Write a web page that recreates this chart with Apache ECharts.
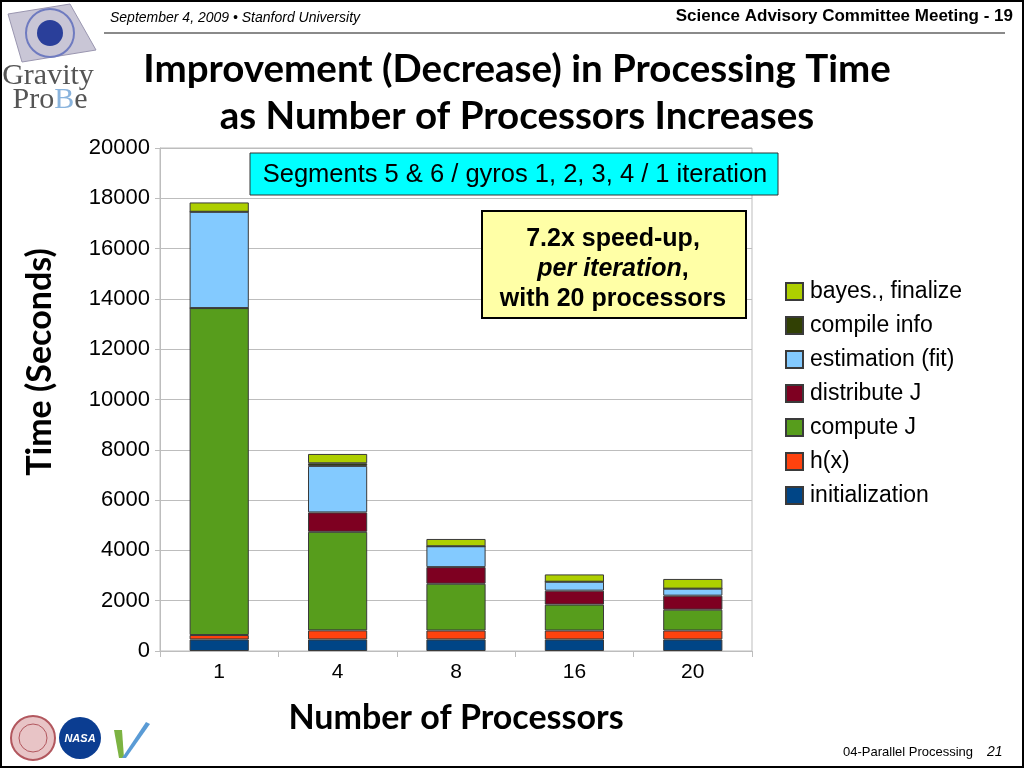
<!DOCTYPE html>
<html>
<head>
<meta charset="UTF-8">
<title>Processing Time</title>
<script src="https://cdn.jsdelivr.net/npm/echarts@6/dist/echarts.min.js"></script>
<style>
  html, body { margin: 0; padding: 0; background: #fff; }
</style>
</head>
<body>
<div id="main" style="width:1024px;height:768px;"></div>
<script type="text/javascript">
// processors on the x axis
var processors = ['1', '4', '8', '16', '20'];

// seconds per stage (bottom to top)
var initialization = [460, 460, 460, 460, 460];
var hx = [175, 360, 355, 355, 355];
var computeJ = [13000, 3920, 1860, 1030, 830];
var distributeJ = [0, 770, 660, 555, 555];
var estimation = [3830, 1850, 830, 355, 280];
var compileInfo = [0, 105, 0, 0, 0];
var bayes = [370, 370, 290, 290, 385];

var stages = [
  ['initialization', initialization, '#004586'],
  ['h(x)', hx, '#ff420e'],
  ['compute J', computeJ, '#579d1c'],
  ['distribute J', distributeJ, '#7e0021'],
  ['estimation (fit)', estimation, '#83caff'],
  ['compile info', compileInfo, '#314004'],
  ['bayes., finalize', bayes, '#aecf00']
];

var sans = '"Liberation Sans", Arial, sans-serif';
var heading = 'Lato, "Open Sans", sans-serif';
var gridGray = '#bdbdbd';

var series = stages.map(function (s) {
  return {
    name: s[0],
    type: 'bar',
    stack: 'time',
    data: s[1],
    barCategoryGap: '50%',
    itemStyle: { color: s[2], borderColor: '#3a3a3a', borderWidth: 1 }
  };
});

var myChart = echarts.init(document.getElementById('main'));
myChart.setOption({
  backgroundColor: '#fff',
  animation: false,
  title: {
    text: 'Improvement (Decrease) in Processing Time\nas Number of Processors Increases',
    left: 517,
    top: 46,
    padding: 0,
    textAlign: 'center',
    textStyle: { fontFamily: heading, fontWeight: 'bold', fontSize: 38.5, lineHeight: 47, color: '#000' }
  },
  legend: {
    orient: 'vertical',
    left: 785,
    top: 280,
    padding: 0,
    itemWidth: 17,
    itemHeight: 17,
    itemGap: 11,
    icon: 'rect',
    data: ['bayes., finalize', 'compile info', 'estimation (fit)', 'distribute J', 'compute J', 'h(x)', 'initialization'],
    textStyle: { fontFamily: sans, fontSize: 23, lineHeight: 23, color: '#000', padding: [0, 0, 0, 2] }
  },
  grid: {
    left: 160, right: 272, top: 148, bottom: 117,
    show: true, borderColor: gridGray, borderWidth: 1
  },
  xAxis: {
    type: 'category',
    data: processors,
    name: 'Number of Processors',
    nameLocation: 'middle',
    nameGap: 50,
    nameTextStyle: { fontFamily: heading, fontWeight: 'bold', fontSize: 34, color: '#000' },
    axisLine: { lineStyle: { color: gridGray } },
    axisTick: { show: true, length: 6, lineStyle: { color: gridGray } },
    axisLabel: { fontFamily: sans, fontSize: 21, color: '#000', margin: 11 }
  },
  yAxis: {
    type: 'value',
    min: 0,
    max: 20000,
    interval: 2000,
    axisLine: { show: true, lineStyle: { color: gridGray } },
    axisTick: { show: true, length: 5, lineStyle: { color: gridGray } },
    axisLabel: { fontFamily: sans, fontSize: 22, color: '#000', margin: 10, formatter: function (v) { return String(v); } },
    splitLine: { lineStyle: { color: gridGray } }
  },
  series: series,
  graphic: [
    // slide frame
    { type: 'rect', shape: { x: 1, y: 1, width: 1022, height: 766 }, style: { fill: 'none', stroke: '#000', lineWidth: 2 }, z: 100 },
    // header
    { type: 'text', x: 110, y: 18, style: { text: 'September 4, 2009 \u2022 Stanford University', font: 'italic 14px ' + sans, fill: '#000', textVerticalAlign: 'middle' } },
    { type: 'text', x: 1013, y: 16, style: { text: 'Science Advisory Committee Meeting - 19', font: 'bold 17px ' + sans, fill: '#000', textAlign: 'right', textVerticalAlign: 'middle' } },
    { type: 'line', shape: { x1: 104, y1: 33, x2: 1005, y2: 33 }, style: { stroke: '#8a8a8a', lineWidth: 2 } },
    // Gravity Probe B logo
    { type: 'polygon', shape: { points: [[8, 14], [70, 4], [96, 50], [22, 62]] }, style: { fill: '#c9c6d6', stroke: '#9a96b0', lineWidth: 1 } },
    { type: 'circle', shape: { cx: 50, cy: 33, r: 13 }, style: { fill: '#2a3f9a' } },
    { type: 'circle', shape: { cx: 50, cy: 33, r: 24 }, style: { fill: 'none', stroke: '#6f7bc0', lineWidth: 2 } },
    { type: 'text', x: 48, y: 76, style: { text: 'Gravity', font: '30px "Liberation Serif", serif', fill: '#555', textAlign: 'center', textVerticalAlign: 'middle' } },
    { type: 'text', x: 50, y: 100, style: { text: '{a|Pro}{b|B}{a|e}', textAlign: 'center', textVerticalAlign: 'middle',
      rich: { a: { font: '30px "Liberation Serif", serif', fill: '#555' }, b: { font: '30px "Liberation Serif", serif', fill: '#8ab4dd' } } } },
    // y axis title
    { type: 'text', x: 40, y: 362, rotation: Math.PI / 2, style: { text: 'Time (Seconds)', font: 'bold 34px ' + heading, fill: '#000', textAlign: 'center', textVerticalAlign: 'middle' } },
    // cyan caption box
    { type: 'rect', shape: { x: 250, y: 153, width: 528, height: 42 }, style: { fill: '#00ffff', stroke: '#333', lineWidth: 1 }, z: 50 },
    { type: 'text', x: 515, y: 175, z: 51, style: { text: 'Segments 5 & 6 / gyros 1, 2, 3, 4 / 1 iteration', font: '25.5px ' + sans, fill: '#000', textAlign: 'center', textVerticalAlign: 'middle' } },
    // yellow speed-up box
    { type: 'rect', shape: { x: 482, y: 211, width: 264, height: 107 }, style: { fill: '#ffffa6', stroke: '#000', lineWidth: 2 }, z: 50 },
    { type: 'text', x: 613, y: 269, z: 51, style: {
      text: '{b|7.2x speed-up,}\n{i|per iteration}{b|,}\n{b|with 20 processors}',
      textAlign: 'center', textVerticalAlign: 'middle',
      rich: {
        b: { font: 'bold 25px ' + sans, fill: '#000', lineHeight: 30 },
        i: { font: 'italic bold 25px ' + sans, fill: '#000', lineHeight: 30 }
      } } },
    // bottom logos
    { type: 'circle', shape: { cx: 33, cy: 738, r: 22 }, style: { fill: '#e8c4c6', stroke: '#b2575e', lineWidth: 2 } },
    { type: 'circle', shape: { cx: 33, cy: 738, r: 14 }, style: { fill: 'none', stroke: '#b2575e', lineWidth: 1 } },
    { type: 'circle', shape: { cx: 80, cy: 738, r: 21 }, style: { fill: '#0b3d91' } },
    { type: 'text', x: 80, y: 739, style: { text: 'NASA', font: 'italic bold 11px ' + sans, fill: '#fff', textAlign: 'center', textVerticalAlign: 'middle' } },
    { type: 'polygon', shape: { points: [[114, 730], [122, 730], [124, 758], [119, 758]] }, style: { fill: '#7cb342' } },
    { type: 'polygon', shape: { points: [[122, 758], [146, 722], [150, 724], [126, 758]] }, style: { fill: '#5a9bd5' } },
    // footer
    { type: 'text', x: 843, y: 752, style: { text: '04-Parallel Processing', font: '13px ' + sans, fill: '#000', textVerticalAlign: 'middle' } },
    { type: 'text', x: 987, y: 752, style: { text: '21', font: 'italic 14px ' + sans, fill: '#000', textVerticalAlign: 'middle' } }
  ]
});
</script>
</body>
</html>
